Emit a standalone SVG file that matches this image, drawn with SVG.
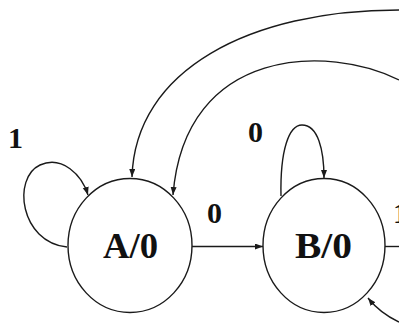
<svg xmlns="http://www.w3.org/2000/svg" width="399" height="323" viewBox="0 0 399 323">
  <style>
    .state { fill: #fff; stroke: #1a1a1a; stroke-width: 1.4; }
    .edge { fill: none; stroke: #1a1a1a; stroke-width: 1.4; }
    .name { font-family: "Liberation Serif", "Times New Roman", serif; font-weight: bold; font-size: 35px; fill: #111; text-anchor: middle; }
    .lbl { font-family: "Liberation Serif", "Times New Roman", serif; font-weight: bold; font-size: 30px; fill: #111; text-anchor: middle; }
  </style>
  <defs>
    <marker id="arrow" markerUnits="userSpaceOnUse" markerWidth="9" markerHeight="7" refX="8" refY="3" orient="auto">
      <path d="M0,0 L8,3 L0,6 z" fill="#1a1a1a"/>
    </marker>
  </defs>
  <rect width="399" height="323" fill="#fff"/>

  <g id="edges">
    <!-- A self-loop on input 1 -->
    <path class="edge" marker-end="url(#arrow)" d="M 67 247 C 20 242, 12 178, 40 165 C 62 155, 82 175, 88 195"/>
    <!-- long return arcs into A -->
    <path class="edge" marker-end="url(#arrow)" d="M 399 10 C 250 10, 135 70, 132 177"/>
    <path class="edge" marker-end="url(#arrow)" d="M 399 80 C 330 45, 185 45, 173 195"/>
    <!-- A to B on input 0 -->
    <path class="edge" marker-end="url(#arrow)" d="M 192 246.5 L 263 246.5"/>
    <!-- B self-loop on input 0 -->
    <path class="edge" marker-end="url(#arrow)" d="M 281 196 C 280 150, 289 125, 302 125 C 318 125, 324 150, 324 178"/>
    <!-- B outgoing on input 1 -->
    <path class="edge" d="M 385 246.5 L 399 246.5"/>
    <!-- incoming arc into B -->
    <path class="edge" marker-end="url(#arrow)" d="M 399 322 C 386 316, 376 308, 368 298"/>
  </g>

  <g id="state-A">
    <ellipse class="state" cx="130" cy="245.5" rx="62" ry="67"/>
    <text class="name" x="130.5" y="258" textLength="55" lengthAdjust="spacingAndGlyphs">A/0</text>
  </g>
  <g id="state-B">
    <ellipse class="state" cx="324" cy="245.5" rx="61" ry="67"/>
    <text class="name" x="323.5" y="258" textLength="57" lengthAdjust="spacingAndGlyphs">B/0</text>
  </g>

  <g id="labels">
    <text class="lbl" x="15.5" y="148">1</text>
    <text class="lbl" x="255.5" y="142">0</text>
    <text class="lbl" x="214.5" y="223">0</text>
    <text class="lbl" x="393" y="223" style="text-anchor:start">1</text>
  </g>
</svg>
